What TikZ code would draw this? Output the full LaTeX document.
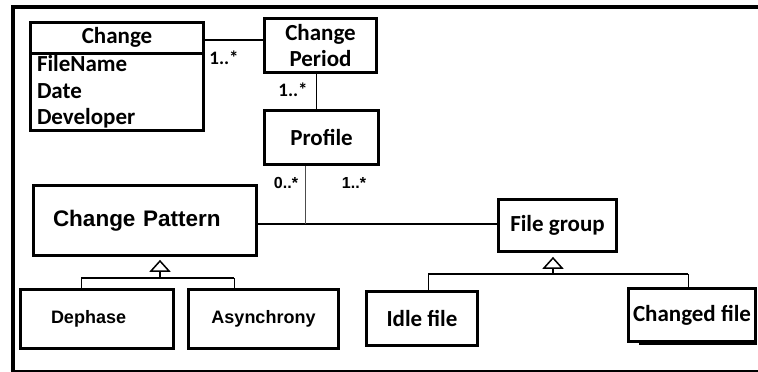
\documentclass[tikz,border=0pt]{standalone}
\usepackage{fontspec}
\setmainfont{Carlito}
\newfontfamily\arialfont{Liberation Sans}
\usetikzlibrary{calc}
\begin{document}
\begin{tikzpicture}[x=1pt,y=-1pt,
  box/.style={draw, line width=3pt, inner sep=0pt},
  cal/.style={font=\bfseries\fontsize{23}{26.5}\selectfont},
  ari/.style={font=\arialfont\bfseries\fontsize{22.5}{26}\selectfont},
  arismall/.style={font=\arialfont\bfseries\fontsize{18}{21}\selectfont},
  mult/.style={inner sep=0pt, font=\bfseries\fontsize{19}{22}\selectfont},
  multa/.style={inner sep=0pt, font=\arialfont\bfseries\fontsize{16}{19}\selectfont},
  link/.style={line width=2pt},
  thinlink/.style={line width=1pt},
  frame/.style={line width=4pt}]
\useasboundingbox (0,0) rectangle (758,372);
% outer frame
\draw[frame] (758,7) -- (12.5,7) -- (12.5,370);
\draw[line width=2pt] (10.5,370.5) -- (758,370.5);

% nodes
\node[box, cal, minimum width=173, minimum height=30.5] (chgHead) at (117,37.75) {Change};
\node[box, cal, minimum width=173, minimum height=76.5, align=left, text width=160] (chgAttr) at (117,91.75) {FileName\\Date\\Developer};
\node[box, cal, minimum width=112, minimum height=54, align=center] (cp) at (320.5,45.5) {Change\\Period};
\node[box, cal, minimum width=114, minimum height=54] (prof) at (321.5,137.5) {Profile};
\node[box, ari, minimum width=223, minimum height=70, align=left, text width=184] (cpat) at (145,220.5) {Change Pattern};
\node[box, cal, minimum width=118, minimum height=52] (fg) at (557.5,225.5) {File group};
\node[box, arismall, minimum width=153, minimum height=59, align=left, text width=92] (deph) at (97,319) {Dephase};
\node[box, arismall, minimum width=150, minimum height=59] (async) at (263.5,319) {Asynchrony};
\node[box, cal, minimum width=111, minimum height=54] (idle) at (422,318.5) {Idle file};
\node[box, cal, minimum width=127, minimum height=53] (chgf) at (692,315) {Changed file};
\draw[line width=2pt] ([xshift=-118pt,yshift=-29pt]chgf.east) -- ([yshift=-29pt]chgf.east);

% multiplicities
\node[mult] (m1) at (224,58) {1..*};
\node[mult] (m2) at (293,90) {1..*};
\node[multa] (m3) at (286,183) {0..*};
\node[multa] (m4) at (354,183) {1..*};

% associations
\draw[link] ([yshift=-2.25pt]chgHead.east) coordinate (a0) -- (a0 -| cp.west);
\draw[thinlink] ([xshift=-4.5pt]cp.south) coordinate (b0) -- (b0 |- prof.north);
\path ([yshift=-3.5pt]cpat.east) coordinate (a1);
\draw[link] (a1) -- (a1 -| fg.west);
\draw[thinlink, draw=black!70] ([xshift=-16.5pt]prof.south) coordinate (a2) -- (a2 |- a1);

% generalization: Change Pattern
\coordinate (t1) at ([xshift=15pt,yshift=-4pt]cpat.south);
\draw[line width=1.5pt, line join=miter] (t1) -- ++(-9,10) -- ++(18,0) -- cycle;
\draw[line width=2pt] ([yshift=-10pt]t1) -- ++(0,7) coordinate (t1b);
\draw[line width=2pt] (81,278) coordinate (l1) -- (234,278) coordinate (r1);
\draw[thinlink] (l1) -- (l1 |- deph.north);
\draw[thinlink] (r1) -- (r1 |- async.north);

% generalization: File group
\coordinate (t2) at ([xshift=-4.5pt,yshift=-5pt]fg.south);
\draw[line width=1.5pt, line join=miter] (t2) -- ++(-9,10) -- ++(18,0) -- cycle;
\draw[line width=2pt] ([yshift=-10pt]t2) -- ++(0,6) coordinate (t2b);
\draw[line width=2pt] (428,274) coordinate (l2) -- (688,274) coordinate (r2);
\draw[thinlink] (l2) -- (l2 |- idle.north);
\draw[thinlink] (r2) -- (r2 |- chgf.north);
\end{tikzpicture}
\end{document}
